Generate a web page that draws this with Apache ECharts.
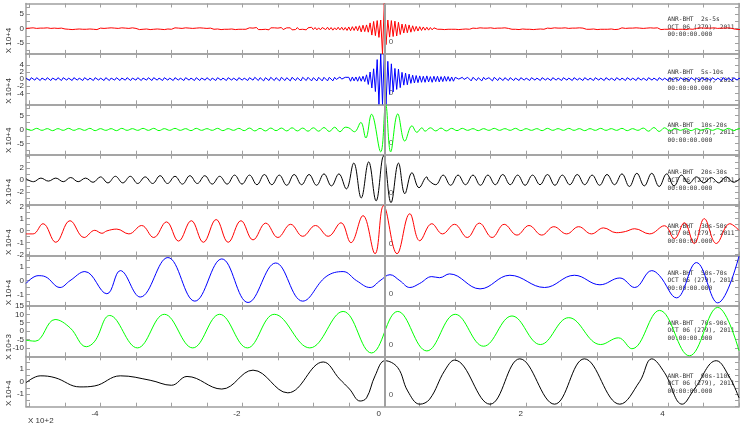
<!DOCTYPE html>
<html><head><meta charset="utf-8">
<script src="https://cdn.jsdelivr.net/npm/echarts@6/dist/echarts.min.js"></script>
<style>html,body{margin:0;padding:0;background:#fff}#c{width:746px;height:429px}</style>
</head><body><div id="c"></div>
<script>
// ---------- axis / labels ----------
const xMin = -5.05, xMax = 5.0;
const xLabelVals = [-4, -2, 0, 2, 4];
const xTickVals = [-5,-4.5,-4,-3.5,-3,-2.5,-2,-1.5,-1,-0.5,0,0.5,1,1.5,2,2.5,3,3.5,4,4.5,5];
const bandNames = ['2s-5s','5s-10s','10s-20s','20s-30s','30s-50s','50s-70s','70s-90s','90s-110s'];
const colors = ['#ff0000','#0000ff','#00ff00','#000000','#ff0000','#0000ff','#00ff00','#000000'];
const yMax = [8.7, 7.1, 8.9, 4.2, 2.1, 1.85, 15, 2.0];
const yLabels = [[-5,0,5],[-6,-4,-2,0,2,4,6],[-5,0,5],[-2,0,2],[-2,-1,0,1,2],[-1,0,1],[-10,-5,0,5,10,15],[-1,0,1]];
const yTicks = [
  [-7.5,-5,-2.5,0,2.5,5,7.5],
  [-6,-4,-2,0,2,4,6],
  [-7.5,-5,-2.5,0,2.5,5,7.5],
  [-4,-3,-2,-1,0,1,2,3,4],
  [-2,-1.5,-1,-0.5,0,0.5,1,1.5,2],
  [-1.5,-1,-0.5,0,0.5,1,1.5],
  [-15,-10,-5,0,5,10,15],
  [-2,-1.5,-1,-0.5,0,0.5,1,1.5,2]
];
const scaleNames = ['X 10+4','X 10+4','X 10+4','X 10+4','X 10+4','X 10+4','X 10+3','X 10+4'];
const station = 'ANR-BHT';
const dateLine = 'OCT 06 (279), 2011';
const timeLine = '00:00:00.000';

// ---------- data (lag in 10^2 s, amplitude in axis units) ----------
const p1Step = 0.025;
const p1Noise = [
0.1,-0.2,0.2,-0.1,0.3,-0.2,0.1,-0.3,0.2,-0.1,0.2,-0.2,0.3,-0.1,0.1,-0.2,0.2,-0.3,0.1,-0.2,0.2,
0.2,-0.1,0.3,-0.2,0.2,-0.3,0.1,-0.2,0.2,-0.1,0.3,-0.2,0.1,-0.2,0.3,-0.1,0.2,-0.2,0.1,-0.3,0.2,
0.2,-0.2,0.1,-0.3,0.2,-0.1,0.3,-0.2,0.2,-0.3,0.1,-0.2,0.3,-0.1,0.2,-0.2,0.1,-0.2,0.3,-0.2,0.1,
0.1,-0.3,0.2,-0.2,0.3,-0.1,0.2,-0.3,0.1,-0.2,0.2,-0.1,0.3,-0.2,0.2,-0.3,0.2,-0.1,0.1,-0.2,0.3,
0.3,-0.2,0.2,-0.3,0.1,-0.2,0.3,-0.1,0.2,-0.2,0.1,-0.3,0.2,-0.2,0.3,-0.1,0.2,-0.3,0.1,-0.2,0.2,
0.2,-0.2,0.3,-0.1,0.2,-0.3,0.1,-0.2,0.3,-0.2,0.2,-0.1,0.1,-0.3,0.2,-0.2,0.3,-0.2,0.1,-0.2,0.3,
0.3,-0.3,0.2,-0.2,0.4,-0.3,0.2,-0.3,0.3,-0.2,0.2,-0.4,0.3,-0.2,0.3,-0.3,0.2,-0.2,0.4,-0.3,0.3,
0.3,-0.2,0.3,-0.4,0.2,-0.3,0.4,-0.3,0.3,-0.2,0.4,-0.4,0.3,-0.3,0.5,-0.3,0.4,-0.4,0.3,-0.4,0.4,
0.4,-0.3,0.5,-0.4,0.4,-0.5,0.3,-0.4,0.5,-0.4,0.5,-0.5,0.4,-0.6,0.5,-0.5,0.6,-0.5,0.5,-0.6,0.6,
0.6,-0.6,0.5,-0.5,0.6,-0.5,0.5,-0.5,0.4,-0.4,0.4,-0.3,0.3,-0.4,0.3,-0.3,0.4,-0.3,0.3,-0.3,0.3,
0.4,-0.3,0.3,-0.4,0.3,-0.3,0.4,-0.3,0.3,-0.3,0.3,-0.2,0.3,-0.3,0.2,-0.3,0.3,-0.2,0.2,-0.3,0.2,
0.2,-0.2,0.3,-0.2,0.2,-0.3,0.2,-0.2,0.3,-0.2,0.2,-0.2,0.1,-0.3,0.2,-0.2,0.3,-0.1,0.2,-0.2,0.2,
0.2,-0.3,0.1,-0.2,0.3,-0.2,0.2,-0.1,0.2,-0.3,0.3,-0.2,0.1,-0.2,0.2,-0.3,0.2,-0.1,0.3,-0.2,0.1,
0.1,-0.2,0.3,-0.2,0.2,-0.3,0.2,-0.1,0.2,-0.2,0.3,-0.2,0.1,-0.3,0.2,-0.2,0.3,-0.1,0.2,-0.2,0.3,
0.2,-0.3,0.1,-0.2,0.3,-0.2,0.2,-0.1,0.2,-0.3,0.3,-0.2,0.1,-0.2,0.2,-0.3,0.2,-0.1,0.3,-0.2,0.2,
0.1,-0.2,0.2,-0.2,0.3,-0.1,0.2,-0.3,0.1,-0.2,0.2,-0.2,0.3,-0.2,0.2,-0.1,0.1,-0.3,0.2,-0.2,0.1,
0.3,-0.2,0.1,-0.2,0.2,-0.3,0.2,-0.1,0.3,-0.2,0.2,-0.2,0.1,-0.3,0.2,-0.2,0.3,-0.1,0.2,-0.2,0.3,
0.2,-0.3,0.1,-0.2,0.3,-0.2,0.2,-0.1,0.2,-0.3,0.3,-0.2,0.1,-0.2,0.2,-0.3,0.2,-0.1,0.3,-0.2,0.2,
0.1,-0.2,0.3,-0.2,0.2,-0.3,0.2,-0.1,0.2,-0.2,0.3,-0.2,0.1,-0.2,0.2,-0.3,0.2,-0.1,0.3,-0.2,0.1,
0.2,-0.2,0.1,-0.3,0.2,-0.2,0.3,-0.1,0.2,-0.2,0.2,-0.3,0.1,-0.2,0.2,-0.2,0.3,-0.2,0.2,-0.1,0.2
];
const p1Burst = [
[-0.5,0.6],[-0.475,-0.7],[-0.45,0.7],[-0.425,-0.6],[-0.4,0.8],[-0.375,-0.7],
[-0.35,1.0],[-0.325,-1.1],[-0.3,1.2],[-0.275,-1.0],[-0.25,1.3],[-0.225,-1.2],
[-0.2,2.0],[-0.175,-2.2],[-0.15,2.5],[-0.125,-2.4],[-0.1,2.8],[-0.075,-3.0],[-0.05,3.0],
[-0.025,-8.7],[0,8.7],[0.025,-5.5],
[0.05,3.0],[0.075,-2.9],[0.1,2.8],[0.125,-2.7],[0.15,2.6],[0.175,-2.5],[0.2,2.2],[0.225,-2.0],
[0.25,1.6],[0.275,-1.5],[0.3,1.5],[0.325,-1.4],[0.35,1.3],[0.375,-1.2],[0.4,1.0],[0.425,-0.9],
[0.45,0.8],[0.475,-0.8],[0.5,0.7],[0.525,-0.6],[0.55,0.6],[0.575,-0.5],[0.6,0.5],[0.625,-0.5],
[0.65,0.4],[0.675,-0.4],[0.7,0.3]
];

const p2Step = 0.025;
const p2Noise = [
0.3,0,-0.4,0.4,0.1,-0.3,0.4,-0.1,-0.4,0.3,0,-0.3,0.4,0.1,-0.4,0.3,-0.1,-0.3,0.4,0,-0.4,
0.4,0.1,-0.3,0.3,0,-0.4,0.4,-0.1,-0.3,0.3,0.1,-0.4,0.4,0,-0.3,0.3,-0.1,-0.4,0.4,0.1,-0.3,
0.3,0,-0.4,0.4,0.1,-0.4,0.3,-0.1,-0.3,0.4,0,-0.4,0.3,0.1,-0.3,0.4,-0.1,-0.4,0.3,0,-0.3,
0.4,0.1,-0.4,0.3,0,-0.3,0.4,-0.1,-0.4,0.4,0.1,-0.3,0.3,0,-0.4,0.4,-0.1,-0.3,0.3,0.1,-0.4,
0.4,0,-0.3,0.3,-0.1,-0.4,0.4,0.1,-0.3,0.3,0,-0.4,0.4,-0.1,-0.4,0.3,0.1,-0.3,0.4,0,-0.4,
0.3,0.1,-0.4,0.4,0,-0.3,0.3,-0.1,-0.4,0.4,0.1,-0.3,0.3,0,-0.4,0.4,-0.1,-0.3,0.3,0.1,-0.4,
0.4,0,-0.3,0.5,0.1,-0.4,0.4,-0.1,-0.5,0.4,0,-0.4,0.5,0.1,-0.4,0.4,-0.1,-0.5,0.5,0,-0.4,
0.4,0.1,-0.5,0.5,0,-0.4,0.4,-0.1,-0.5,0.5,0.1,-0.4,0.5,0,-0.5,0.4,-0.1,-0.5,0.5,0.1,-0.5,
0.5,0,-0.5,0.5,0.1,-0.5,0.5,-0.1,-0.5,0.6,0,-0.5,0.5,0.1,-0.6,0.5,-0.1,-0.5,0.6,0,-0.6,
0.6,0.1,-0.6,0.6,0,-0.6,0.6,-0.1,-0.6,0.6,0.1,-0.6,0.6,0,-0.6,0.6,-0.1,-0.6,0.6,0.1,-0.6,
0.6,0,-0.6,0.6,0.1,-0.6,0.6,-0.1,-0.6,0.6,0,-0.6,0.6,0.1,-0.6,0.6,-0.1,-0.5,0.6,0,-0.6,
0.5,0.1,-0.6,0.6,0,-0.5,0.5,-0.1,-0.6,0.6,0.1,-0.5,0.5,0,-0.5,0.5,-0.1,-0.5,0.5,0.1,-0.5,
0.5,0,-0.4,0.4,0.1,-0.5,0.5,-0.1,-0.4,0.4,0,-0.5,0.5,0.1,-0.4,0.4,-0.1,-0.4,0.4,0,-0.4,
0.4,0.1,-0.4,0.3,0,-0.4,0.4,-0.1,-0.3,0.3,0.1,-0.4,0.4,0,-0.3,0.3,-0.1,-0.4,0.4,0.1,-0.3,
0.3,0,-0.4,0.4,0.1,-0.3,0.3,-0.1,-0.4,0.4,0,-0.3,0.3,0.1,-0.4,0.4,-0.1,-0.3,0.3,0,-0.4,
0.4,0.1,-0.3,0.3,0,-0.4,0.4,-0.1,-0.3,0.3,0.1,-0.4,0.4,0,-0.3,0.3,-0.1,-0.4,0.4,0.1,-0.3,
0.3,0,-0.4,0.4,0.1,-0.3,0.3,-0.1,-0.4,0.4,0,-0.3,0.3,0.1,-0.4,0.4,-0.1,-0.3,0.3,0,-0.4,
0.4,0.1,-0.3,0.3,0,-0.4,0.4,-0.1,-0.3,0.3,0.1,-0.4,0.4,0,-0.3,0.3,-0.1,-0.4,0.4,0.1,-0.3,
0.3,0,-0.4,0.4,0.1,-0.3,0.3,-0.1,-0.4,0.4,0,-0.3,0.3,0.1,-0.4,0.4,-0.1,-0.3,0.3,0,-0.4,
0.4,0.1,-0.3,0.3,0,-0.4,0.4,-0.1,-0.3,0.3,0.1,-0.4,0.4,0,-0.3,0.3,-0.1,-0.4,0.4,0.1,-0.3
];
const p2Burst = [
[-0.5,0.5],[-0.475,-0.6],[-0.45,0.6],[-0.425,-0.5],[-0.4,0.6],[-0.375,-0.6],[-0.35,0.7],[-0.325,-0.6],[-0.3,0.8],[-0.275,-0.7],
[-0.25,1.2],[-0.225,-1.5],[-0.2,2.0],[-0.175,-2.5],[-0.15,2.9],[-0.125,-3.5],[-0.1,5.5],[-0.075,-7.1],[-0.05,7.1],[-0.025,-7.1],[0,7.1],[0.025,-7.1],
[0.05,5.0],[0.075,-4.3],[0.1,4.3],[0.125,-3.6],[0.15,3.0],[0.175,-2.9],[0.2,2.8],[0.225,-2.4],
[0.25,1.9],[0.275,-1.7],[0.3,1.7],[0.325,-1.6],[0.35,1.4],[0.375,-1.2],[0.4,1.1],[0.425,-1.1],[0.45,1.0],[0.475,-1.0],
[0.5,0.9],[0.525,-0.9],[0.55,0.8],[0.575,-0.9],[0.6,0.9],[0.625,-0.8],[0.65,0.7],[0.675,-0.9],[0.7,0.8],[0.725,-0.7],
[0.75,0.8],[0.775,-0.8],[0.8,0.7],[0.825,-0.7],[0.85,0.8],[0.875,-0.6],[0.9,0.7],[0.925,-0.6],[0.95,0.6],[0.975,-0.6],[1.0,0.5]
];

const p3Step = 0.075;
const p3Noise = [
0.3,-0.3,0.4,-0.3,0.3,-0.4,0.3,-0.3,0.4,-0.3,0.3,-0.3,0.4,-0.4,0.3,-0.3,0.3,-0.4,0.4,-0.3,
0.3,-0.3,0.4,-0.3,0.4,-0.4,0.3,-0.3,0.4,-0.3,0.3,-0.4,0.4,-0.3,0.3,-0.3,0.4,-0.4,0.3,-0.3,
0.4,-0.4,0.5,-0.5,0.4,-0.5,0.5,-0.4,0.5,-0.5,0.6,-0.5,0.5,-0.6,0.6,-0.6,0.7,-0.7,0.8,-0.8,
0.8,-0.8,0,0,0,0,0,0,0,0,0,0,0,0,0.6,-0.6,0.6,-0.5,0.5,-0.5,
0.4,-0.4,0.4,-0.3,0.3,-0.4,0.3,-0.3,0.4,-0.3,0.3,-0.3,0.4,-0.4,0.3,-0.3,0.3,-0.4,0.4,-0.3,
0.3,-0.3,0.4,-0.3,0.3,-0.4,0.3,-0.3,0.4,-0.3,0.3,-0.3,0.4,-0.4,0.3,-0.3,0.5,-0.6,0.7,-0.7,
0.6,-0.5,0.4,-0.3,0.3,-0.4,0.3,-0.3,0.4,-0.3,0.3,-0.3,0.4,-0.4,0.3,-0.3
];
const p3Burst = [[-0.5,0.6],[-0.42,-0.8],[-0.33,2.5],[-0.26,-3.0],[-0.18,5.4],[-0.05,-7.9],[0.02,8.9],[0.09,-7.9],[0.19,5.5],[0.29,-4.1],[0.39,1.3],[0.46,-1.0],[0.53,0.6]];

const p4Step = 0.105;
const p4Noise = [
0.2,-0.3,0.3,-0.2,0.3,-0.3,0.4,-0.3,0.3,-0.4,0.5,-0.5,0.6,-0.5,0.6,-0.6,0.5,-0.6,0.7,-0.6,
0.6,-0.7,0.7,-0.6,0.7,-0.7,0.6,-0.7,0.8,-0.7,0.8,-0.8,0.9,-0.8,0.8,-0.9,0.9,-0.8,0.9,-0.9,
1.0,0,0,0,0,0,0,0,0,0,0,0,0,0,0,-0.8,0.8,-0.9,0.8,-0.8,
0.8,-0.9,0.8,-0.8,0.9,-0.8,0.8,-0.9,0.8,-0.8,0.9,-0.9,0.8,-0.8,0.9,-0.8,0.8,-0.9,0.9,-0.8,
1.0,-1.1,1.1,-1.0,1.1,-1.1,1.0,-1.0,0.8,-0.6,0.5,-0.5,0.4,-0.5,0.5,-0.4,0.4
];
const p4Burst = [[-0.745,-1.0],[-0.64,1.0],[-0.535,-1.5],[-0.43,2.8],[-0.325,-3.0],[-0.22,3.0],[-0.115,-3.5],[-0.01,4.0],[0.095,-3.8],[0.2,2.8],[0.29,-2.3],[0.39,1.2],[0.49,-1.3],[0.6,0.5]];

const p5 = [[-5.05,-0.3],[-4.95,-0.3],[-4.81,0.55],[-4.63,-1.0],[-4.43,0.8],[-4.23,-0.6],[-4.08,0.0],[-3.98,-0.25],[-3.91,-0.05],[-3.77,0.1],[-3.6,-0.3],[-3.42,0.4],[-3.25,-0.6],[-3.07,0.7],[-2.9,-0.9],[-2.72,0.8],[-2.55,-1.0],[-2.37,0.9],[-2.2,-1.0],[-2.02,0.8],[-1.85,-0.8],[-1.67,0.6],[-1.5,-0.6],[-1.32,0.5],[-1.15,-0.5],[-0.97,0.4],[-0.79,-0.5],[-0.61,0.63],[-0.47,-1.03],[-0.3,1.22],[-0.13,-1.95],[-0.01,2.05],[0.18,-1.95],[0.36,1.38],[0.5,-0.87],[0.67,0.55],[0.82,-0.3],[0.99,0.5],[1.17,-0.6],[1.34,0.6],[1.52,-0.6],[1.69,0.5],[1.87,-0.4],[2.04,0.4],[2.22,-0.4],[2.39,0.3],[2.57,-0.3],[2.74,0.3],[2.92,-0.3],[3.09,0.2],[3.27,-0.2],[3.4,-0.1],[3.53,0.13],[3.74,-0.3],[3.95,0.38],[4.09,-0.7],[4.23,0.63],[4.37,-1.1],[4.51,0.97],[4.68,-1.1],[4.87,0.55],[5.0,0.0]];

const p6 = [[-5.05,-0.2],[-4.88,0.37],[-4.78,0.3],[-4.57,-0.5],[-4.43,0.0],[-4.22,0.67],[-3.91,-0.96],[-3.72,0.74],[-3.44,-1.2],[-3.05,1.7],[-2.67,-1.5],[-2.29,1.6],[-1.92,-1.6],[-1.53,1.3],[-1.15,-1.5],[-0.82,0.3],[-0.58,0.67],[-0.39,0.0],[-0.2,-0.5],[-0.06,0.0],[0.08,0.44],[0.22,0.0],[0.36,-0.5],[0.5,-0.2],[0.67,0.3],[0.78,0.22],[0.92,0.5],[1.35,-0.6],[1.77,0.4],[2.26,-0.5],[2.68,0.4],[3.04,-0.3],[3.32,0.2],[3.53,-0.5],[3.77,0.74],[3.88,0.37],[4.12,-1.26],[4.4,1.33],[4.7,-1.63],[5.0,1.8]];

const p7 = [[-5.05,-5.4],[-4.92,-6],[-4.64,6.9],[-4.43,2],[-4.2,-9.3],[-4.08,-6],[-3.87,9.3],[-3.48,-10],[-3.1,10],[-2.7,-10],[-2.32,10],[-1.93,-10],[-1.55,10],[-1.05,-10],[-0.58,11.7],[-0.18,-13],[0.19,11.7],[0.6,-11.8],[1.0,10],[1.4,-9],[1.8,9],[2.2,-8],[2.6,8],[3.05,-8],[3.3,-4],[3.49,-10.5],[3.88,12.3],[4.3,-14.7],[4.7,14.1],[5.0,-11.7]];

const p8 = [[-5.05,-0.1],[-4.85,0.45],[-4.64,0.3],[-4.29,-0.43],[-4.08,-0.35],[-3.72,0.45],[-3.3,0.1],[-3.0,-0.3],[-2.78,0.4],[-2.29,-0.6],[-1.85,0.9],[-1.36,-0.9],[-0.86,1.55],[-0.63,0.2],[-0.49,-0.6],[-0.34,-1.55],[-0.25,-1.3],[-0.13,0.45],[0.01,1.65],[0.19,1.1],[0.33,-0.75],[0.5,-1.8],[0.64,-1.4],[0.85,0.85],[0.99,1.7],[1.49,-1.8],[1.91,1.8],[2.4,-1.8],[2.82,1.8],[3.32,-1.8],[3.6,0],[3.77,1.8],[3.95,0.7],[4.2,-1.8],[4.37,-0.6],[4.68,1.65],[4.87,0.3],[5.0,-1.3]];

// ---------- build series data ----------
function uniform(vals, step) { return vals.map((v, i) => [+(xMin + i * step).toFixed(4), v]); }
function merge(bg, burst) {
  const lo = burst[0][0], hi = burst[burst.length - 1][0];
  return bg.filter(p => p[0] < lo || p[0] > hi).concat(burst).sort((a, b) => a[0] - b[0]);
}
const panelData = [
  merge(uniform(p1Noise, p1Step), p1Burst),
  merge(uniform(p2Noise, p2Step), p2Burst),
  merge(uniform(p3Noise, p3Step), p3Burst),
  merge(uniform(p4Noise, p4Step), p4Burst),
  p5, p6, p7, p8
];
const smoothVals = [false, false, 0.4, 0.4, 0.4, 0.4, 0.4, 0.4];

// ---------- layout ----------
const N = 8, T0 = 3.5, H = 50.4, L = 26, W = 713;
const frame = '#a0a0a0', txt = '#333';
const rightLabelOff = [15.8, 18.8, 20.7, 18, 21, 17.5, 17, 19.7];
const nameOff = [37, 37, 36, 37, 37, 37, 41, 37];

const grids = [], xAxes = [], yAxes = [], series = [], graphics = [];
for (let i = 0; i < N; i++) {
  const top = T0 + H * i;
  grids.push({ left: L, top: top, width: W, height: H, show: false });
  const xb = {
    gridIndex: i, type: 'value', min: xMin, max: xMax,
    axisLine: { show: true, onZero: false, lineStyle: { color: frame, width: 1.5 } },
    axisTick: { show: true, inside: true, length: 4, customValues: xTickVals, lineStyle: { color: frame } },
    splitLine: { show: false }, axisLabel: { show: false }
  };
  xAxes.push(Object.assign({}, xb, { position: 'bottom',
    axisLabel: i === N - 1 ? { show: true, customValues: xLabelVals, fontSize: 8, color: txt, margin: 3,
      padding: [0, 11, 0, 0], fontFamily: 'Liberation Sans' } : { show: false } }));
  xAxes.push(Object.assign({}, xb, { position: 'top' }));
  const yb = {
    gridIndex: i, type: 'value', min: -yMax[i], max: yMax[i],
    axisLine: { show: true, onZero: false, lineStyle: { color: frame, width: 1.5 } },
    axisTick: { show: true, inside: true, length: 4, customValues: yTicks[i], lineStyle: { color: frame } },
    splitLine: { show: false }
  };
  yAxes.push(Object.assign({}, yb, { position: 'left',
    axisLabel: { show: true, customValues: yLabels[i], fontSize: 8, color: txt, margin: 2, fontFamily: 'Liberation Sans' } }));
  yAxes.push(Object.assign({}, yb, { position: 'right', axisLabel: { show: false } }));
  series.push({
    type: 'line', xAxisIndex: 2 * i, yAxisIndex: 2 * i, data: panelData[i],
    showSymbol: false, symbol: 'none', smooth: smoothVals[i], clip: true,
    lineStyle: { color: colors[i], width: 1 },
    markLine: { silent: true, symbol: ['none', 'none'], label: { show: false },
      lineStyle: { color: frame, width: 2, type: 'solid' }, data: [{ xAxis: 0 }] },
    animation: false
  });
  graphics.push({ type: 'text', x: 9, y: top + nameOff[i], rotation: Math.PI / 2,
    style: { text: scaleNames[i], fill: txt, font: '8px "Liberation Sans"', align: 'center', verticalAlign: 'middle' } });
  const ry = top + rightLabelOff[i];
  [station + '  ' + bandNames[i], dateLine, timeLine].forEach((s, k) => {
    graphics.push({ type: 'text', x: 667.5, y: ry + 7.6 * k,
      style: { text: s, fill: txt, font: '6.2px "DejaVu Sans Mono"', align: 'left', verticalAlign: 'middle' } });
  });
  graphics.push({ type: 'text', x: 391, y: top + 38.5,
    style: { text: '0', fill: '#555', font: '8px "Liberation Sans"', align: 'center', verticalAlign: 'middle' } });
}
graphics.push({ type: 'text', x: 28, y: 421,
  style: { text: 'X 10+2', fill: txt, font: '8px "Liberation Sans"', align: 'left', verticalAlign: 'middle' } });

const chart = echarts.init(document.getElementById('c'), null, { renderer: 'canvas' });
chart.setOption({
  animation: false, backgroundColor: '#fff',
  grid: grids, xAxis: xAxes, yAxis: yAxes, series: series, graphic: graphics
});
</script></body></html>
